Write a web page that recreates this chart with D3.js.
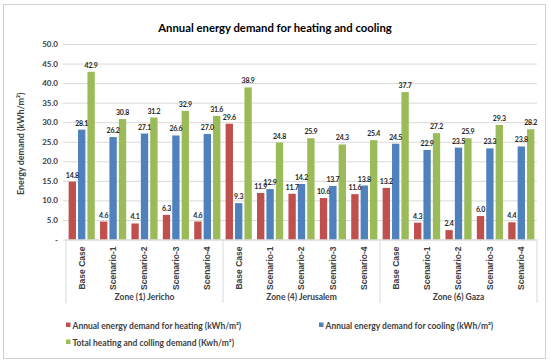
<!DOCTYPE html>
<html>
<head>
<meta charset="utf-8">
<script src="https://cdn.jsdelivr.net/npm/d3@7"></script>
<style>
  html, body { margin: 0; padding: 0; background: #fff; }
  svg { display: block; font-family: Lato, "Open Sans", sans-serif; }
</style>
</head>
<body>
<svg id="chart" width="550" height="363"></svg>
<script>
const zones = ["Zone (1) Jericho", "Zone (4) Jerusalem", "Zone (6) Gaza"];
const scenarios = ["Base Case", "Scenario-1", "Scenario-2", "Scenario-3", "Scenario-4"];
const seriesNames = [
  "Annual energy demand for heating (kWh/m²)",
  "Annual energy demand for cooling (kWh/m²)",
  "Total heating and colling demand (Kwh/m²)"
];
const seriesColors = ["#C0504D", "#4F81BD", "#9BBB59"];
// values per zone, in scenario order
const heating = [
  [14.8, 4.6, 4.1, 6.3, 4.6],
  [29.6, 11.9, 11.7, 10.6, 11.6],
  [13.2, 4.3, 2.4, 6.0, 4.4]
];
const cooling = [
  [28.1, 26.2, 27.1, 26.6, 27.0],
  [9.3, 12.9, 14.2, 13.7, 13.8],
  [24.5, 22.9, 23.5, 23.3, 23.8]
];
const total = [
  [42.9, 30.8, 31.2, 32.9, 31.6],
  [38.9, 24.8, 25.9, 24.3, 25.4],
  [37.7, 27.2, 25.9, 29.3, 28.2]
];
const yTicks = [0, 5, 10, 15, 20, 25, 30, 35, 40, 45, 50];
const yTickLabels = ["-", "5.0", "10.0", "15.0", "20.0", "25.0", "30.0", "35.0", "40.0", "45.0", "50.0"];
const chartTitle = "Annual energy demand for heating and cooling";
const yTitle = "Energy demand (kWh/m²)";

const svg = d3.select("#chart");
const textColor = "#404040";

// outer border
svg.append("rect").attr("x", 3.5).attr("y", 4.5).attr("width", 542).attr("height", 354)
  .attr("fill", "#fff").attr("stroke", "#d0d0d0").attr("stroke-width", 1);

const plotLeft = 66, plotRight = 537, plotTop = 44, plotBottom = 239.5;

const seriesData = [heating, cooling, total];
const cats = [];
zones.forEach((z, zi) => scenarios.forEach((s, si) => cats.push({ key: zi + "|" + si, zone: zi, scen: s, si: si })));

const x0 = d3.scaleBand().domain(cats.map(c => c.key)).range([plotLeft, plotRight]).padding(0);
const x1 = d3.scaleBand().domain([0, 1, 2]).range([0, x0.bandwidth()]).paddingInner(0.22).paddingOuter(0.28);
const y = d3.scaleLinear().domain([0, 50]).range([plotBottom, plotTop]);

// title
svg.append("text").attr("x", 275).attr("y", 32).attr("text-anchor", "middle")
  .attr("font-size", 11.3).attr("font-weight", "bold").attr("fill", "#000").text(chartTitle);

// y axis with gridlines
const gridStart = 63;
const yAxis = d3.axisLeft(y).tickValues(yTicks)
  .tickFormat((d, i) => yTickLabels[yTicks.indexOf(d)])
  .tickSizeInner(-(plotRight - gridStart)).tickSizeOuter(0).tickPadding(5);
const gy = svg.append("g").attr("transform", `translate(${gridStart},0)`).call(yAxis);
gy.select(".domain").remove();
gy.selectAll(".tick line").attr("stroke", "#d9d9d9");
gy.selectAll(".tick text").attr("font-size", 8).attr("font-weight", "bold").attr("fill", textColor)
  .attr("font-family", "Lato, sans-serif");

// y title
svg.append("text").attr("transform", `translate(24,${(plotTop + plotBottom) / 2 + 2}) rotate(-90)`)
  .attr("text-anchor", "middle").attr("font-size", 9).attr("font-weight", "bold").attr("fill", textColor)
  .text(yTitle);

// bars
const barG = svg.append("g");
cats.forEach(c => {
  seriesData.forEach((arr, k) => {
    const v = arr[c.zone][c.si];
    const bx = x0(c.key) + x1(k);
    barG.append("rect").attr("x", bx).attr("y", y(v)).attr("width", x1.bandwidth())
      .attr("height", y(0) - y(v)).attr("fill", seriesColors[k]);
  });
});
// value labels
cats.forEach(c => {
  seriesData.forEach((arr, k) => {
    const v = arr[c.zone][c.si];
    const bx = x0(c.key) + x1(k) + x1.bandwidth() / 2;
    barG.append("text").attr("x", bx).attr("y", y(v) - 4).attr("text-anchor", "middle")
      .attr("font-size", 7).attr("font-weight", "bold").attr("fill", "#262626")
      .attr("letter-spacing", -0.2).text(v.toFixed(1));
  });
});

// x axis (categories)
const xAxis = d3.axisBottom(x0).tickSize(0).tickPadding(0)
  .tickFormat(k => cats.find(c => c.key === k).scen);
const gx = svg.append("g").attr("transform", `translate(0,${plotBottom})`).call(xAxis);
gx.select(".domain").attr("stroke", "#d9d9d9");
gx.selectAll(".tick text").attr("font-size", 8.5).attr("font-weight", "bold").attr("fill", textColor)
  .attr("text-anchor", "end").attr("dy", "0.35em")
  .attr("transform", "translate(0,7) rotate(-90)");

// zone dividers and labels
const bounds = zones.map((z, zi) => x0(zi + "|0")).concat([plotRight]);
bounds.forEach(bx => {
  svg.append("line").attr("x1", bx).attr("x2", bx).attr("y1", plotBottom).attr("y2", 303)
    .attr("stroke", "#d9d9d9").attr("stroke-width", 1);
});
zones.forEach((z, zi) => {
  svg.append("text").attr("x", (bounds[zi] + bounds[zi + 1]) / 2).attr("y", 300)
    .attr("text-anchor", "middle").attr("font-size", 8.5).attr("font-weight", "bold").attr("fill", textColor).text(z);
});

// legend
const legendPos = [[66, 326], [319, 326], [66, 343]];
seriesNames.forEach((n, i) => {
  const [lx, ly] = legendPos[i];
  svg.append("rect").attr("x", lx).attr("y", ly - 3.5).attr("width", 4.5).attr("height", 4.5).attr("fill", seriesColors[i]);
  svg.append("text").attr("x", lx + 6.5).attr("y", ly + 3).attr("font-size", 8.5).attr("font-weight", "bold")
    .attr("fill", textColor).text(n);
});
</script>
</body>
</html>
